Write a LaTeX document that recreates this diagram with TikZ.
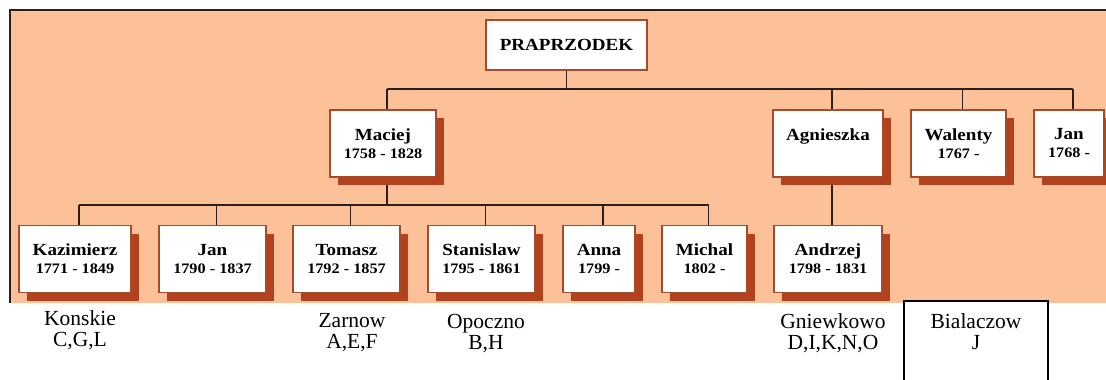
\documentclass[tikz,border=0pt]{standalone}
\usepackage{fontspec}
\setmainfont{Liberation Serif}
\newfontfamily\boxfont[FakeStretch=1.12]{Liberation Serif}
\usepackage{tikz}
\usetikzlibrary{shadows,backgrounds}

\definecolor{brzoskwinia}{RGB}{252,193,152}
\definecolor{rdza}{RGB}{178,66,30}
\definecolor{ramka}{RGB}{165,75,45}
\definecolor{linia}{RGB}{45,30,25}

\newcommand{\daty}[1]{{\fontsize{14.5}{18}\selectfont #1}}

\tikzset{
  karta/.style = {draw = ramka, line width = 1.2pt, fill = white,
    minimum height = 67pt, inner sep = 2pt, align = center,
    font = \boxfont\bfseries\fontsize{17}{18}\selectfont},
  osoba/.style = {karta,
    drop shadow = {shadow xshift = 8pt, shadow yshift = -8pt,
      fill = rdza, opacity = 1}},
  podpis/.style = {align = center, anchor = base, inner sep = 0pt,
    font = \fontsize{21.5}{21}\selectfont},
  polacz/.style = {draw = linia, line width = 1.4pt}
}

\begin{document}
\begin{tikzpicture}[x = 1pt, y = -1pt]
    \useasboundingbox (0,0) rectangle (1106,380);

    % korzen
    \node [karta, minimum width = 161pt, minimum height = 50pt] (pra)
          at (566.5,45) {PRAPRZODEK};

    % dzieci praprzodka
    \node [osoba, minimum width = 106pt] (maciej) at (383,143.5)
          {Maciej\\ \daty{1758 - 1828}};
    \node [osoba, minimum width = 110pt] (agn) at (828,143.5)
          {Agnieszka\\ \daty{\phantom{1}}};
    \node [osoba, minimum width = 95pt] (wal) at (958.5,143.5)
          {Walenty\\ \daty{1767 -}};
    \node [osoba, minimum width = 70pt] (jan2) at (1069,143.5)
          {Jan\\ \daty{1768 -}};

    % wnuki
    \node [osoba, minimum width = 112pt] (kaz) at (75,259)
          {Kazimierz\\ \daty{1771 - 1849}};
    \node [osoba, minimum width = 107pt] (jan1) at (212.5,259)
          {Jan\\ \daty{1790 - 1837}};
    \node [osoba, minimum width = 107pt] (tom) at (346.5,259)
          {Tomasz\\ \daty{1792 - 1857}};
    \node [osoba, minimum width = 107pt] (sta) at (481.5,259)
          {Stanislaw\\ \daty{1795 - 1861}};
    \node [osoba, minimum width = 72pt] (ann) at (599,259)
          {Anna\\ \daty{1799 -}};
    \node [osoba, minimum width = 85pt] (mic) at (704.5,259)
          {Michal\\ \daty{1802 -}};
    \node [osoba, minimum width = 108pt] (and) at (828,259)
          {Andrzej\\ \daty{1798 - 1831}};

    \coordinate (szyna0) at (0,89);
    \coordinate (szyna1) at (0,205);

    \begin{scope}[on background layer]
        \fill [brzoskwinia] (10,10) rectangle (1106,303);
        \draw [linia, line width = 1.5pt] (1106,10) -- (10,10) -- (10,303);

        \draw [polacz] (pra.south) -- (pra.south |- szyna0);
        \draw [polacz] ([xshift = 4pt]maciej.north |- szyna0)
              -- ([xshift = 4pt]jan2.north |- szyna0);
        \foreach \d in {maciej, agn, wal, jan2}
            \draw [polacz] ([xshift = 4pt]\d.north)
                  -- ([xshift = 4pt]\d.north |- szyna0);

        \draw [polacz] ([xshift = 4pt]maciej.south)
              -- ([xshift = 4pt]maciej.south |- szyna1);
        \draw [polacz] ([xshift = 4pt]kaz.north |- szyna1)
              -- ([xshift = 4pt]mic.north |- szyna1);
        \foreach \d in {kaz, jan1, tom, sta, ann, mic}
            \draw [polacz] ([xshift = 4pt]\d.north)
                  -- ([xshift = 4pt]\d.north |- szyna1);

        \draw [polacz] ([xshift = 4pt]agn.south) -- ([xshift = 4pt]and.north);
    \end{scope}

    % miejsca
    \draw [black, line width = 1.5pt, fill = white] (904,301) rectangle (1048,392);
    \node [podpis] (konskie) at (80,346) {Konskie\\C,G,L};
    \node [podpis] (zarnow) at (352,348) {Zarnow\\A,E,F};
    \node [podpis] (opoczno) at (486,349) {Opoczno\\B,H};
    \node [podpis] (gniew) at (833,349) {Gniewkowo\\D,I,K,N,O};
    \node [podpis] (bial) at (976,349) {Bialaczow\\J};

\end{tikzpicture}
\end{document}
